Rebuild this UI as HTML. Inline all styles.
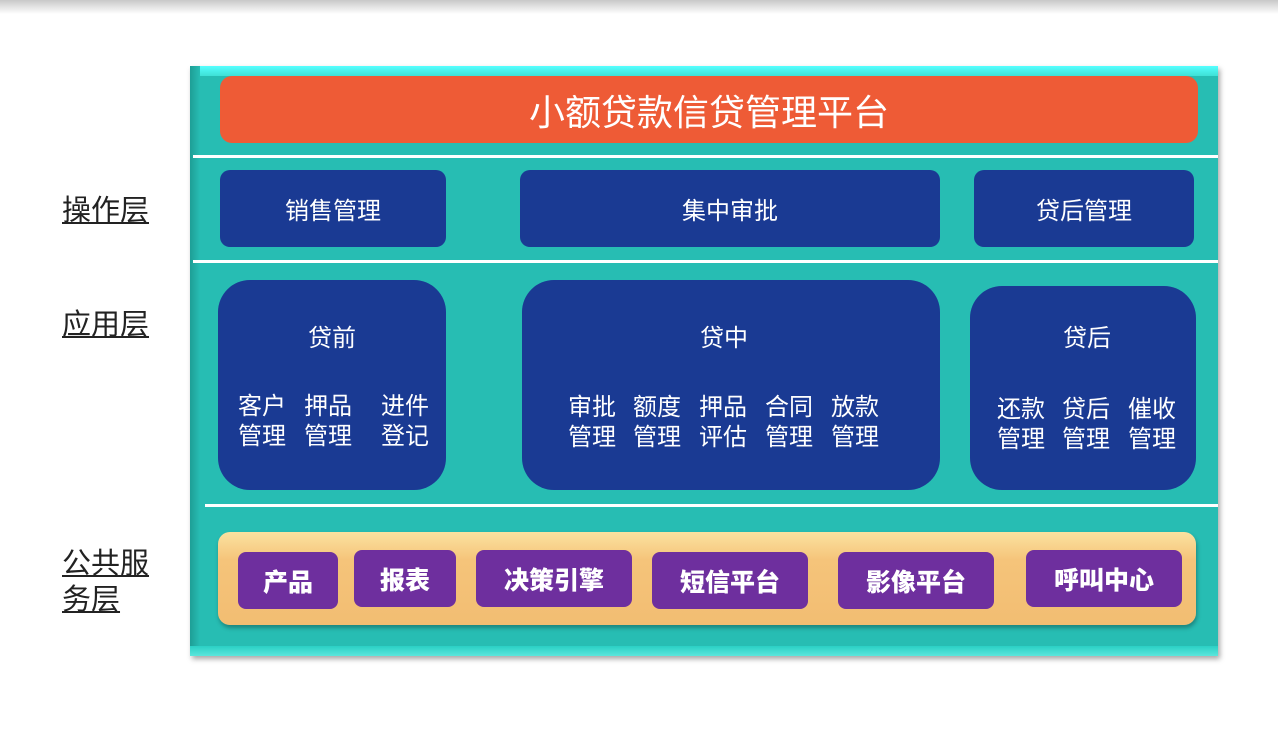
<!DOCTYPE html>
<html><head><meta charset="utf-8"><style>
body{margin:0;width:1278px;height:756px;background:#fff;position:relative;overflow:hidden;font-family:"Liberation Sans","Noto Sans CJK SC",sans-serif}
.a{position:absolute}
.topbar{left:0;top:0;width:1278px;height:14px;background:linear-gradient(#c8c8c8,#fff)}
.main{left:190px;top:66px;width:1028px;height:590px;background:#27bdb3;box-shadow:2px 3px 5px rgba(0,0,0,.35)}
.bevt{left:190px;top:66px;width:1028px;height:10px;background:linear-gradient(#5ff,#3ee0d6)}
.bevl{left:190px;top:66px;width:10px;height:590px;background:linear-gradient(90deg,#1e9e96,#27bdb3)}
.bevb{left:190px;top:646px;width:1028px;height:10px;background:linear-gradient(#2ad0c5,#5be6dc)}
.line{height:3px;background:#fff}
.blue{background:#1a3a93;color:#fff;display:flex;align-items:center;justify-content:center;font-size:24px}
.lbl{font-size:29px;color:#222;text-decoration:underline;line-height:36px}
.pur{background:#6e2f9e;color:#fff;border-radius:8px;display:flex;align-items:center;justify-content:center;font-size:25px;font-weight:900}
.t{color:#fff;font-size:24px;line-height:30px;text-align:center}
</style></head><body>
<div class="a topbar"></div>
<div class="a main"></div><div class="a bevt"></div><div class="a bevl"></div><div class="a bevb"></div>
<div class="a" style="left:220px;top:76px;width:978px;height:67px;background:#ee5b36;border-radius:12px;color:#fff;font-size:36px;display:flex;align-items:center;justify-content:center">小额贷款信贷管理平台</div>
<div class="a line" style="left:193px;top:155px;width:1025px"></div>
<div class="a line" style="left:193px;top:260px;width:1025px"></div>
<div class="a line" style="left:205px;top:504px;width:1013px"></div>
<div class="a blue" style="left:220px;top:170px;width:226px;height:77px;border-radius:10px">销售管理</div>
<div class="a blue" style="left:520px;top:170px;width:420px;height:77px;border-radius:10px">集中审批</div>
<div class="a blue" style="left:974px;top:170px;width:220px;height:77px;border-radius:10px">贷后管理</div>
<div class="a blue" style="left:218px;top:280px;width:228px;height:210px;border-radius:32px;display:block"></div>
<div class="a blue" style="left:522px;top:280px;width:418px;height:210px;border-radius:32px;display:block"></div>
<div class="a blue" style="left:970px;top:286px;width:226px;height:204px;border-radius:32px;display:block"></div>
<div class="a t" style="left:218px;top:324px;width:228px">贷前</div>
<div class="a t" style="left:522px;top:324px;width:404px">贷中</div>
<div class="a t" style="left:970px;top:324px;width:234px">贷后</div>
<div class="a t" style="left:238px;top:392px">客户<br>管理</div>
<div class="a t" style="left:304px;top:392px">押品<br>管理</div>
<div class="a t" style="left:381px;top:392px">进件<br>登记</div>
<div class="a t" style="left:568px;top:393px">审批<br>管理</div>
<div class="a t" style="left:633px;top:393px">额度<br>管理</div>
<div class="a t" style="left:699px;top:393px">押品<br>评估</div>
<div class="a t" style="left:765px;top:393px">合同<br>管理</div>
<div class="a t" style="left:831px;top:393px">放款<br>管理</div>
<div class="a t" style="left:997px;top:395px">还款<br>管理</div>
<div class="a t" style="left:1062px;top:395px">贷后<br>管理</div>
<div class="a t" style="left:1128px;top:395px">催收<br>管理</div>
<div class="a" style="left:218px;top:532px;width:978px;height:93px;background:linear-gradient(#fbe2a0,#f5c47a 30%,#f2bd72);border-radius:12px;box-shadow:1px 3px 4px rgba(0,0,0,.3)"></div>
<div class="a pur" style="left:238px;top:552px;width:100px;height:57px">产品</div>
<div class="a pur" style="left:354px;top:550px;width:102px;height:57px">报表</div>
<div class="a pur" style="left:476px;top:550px;width:156px;height:57px">决策引擎</div>
<div class="a pur" style="left:652px;top:552px;width:156px;height:57px">短信平台</div>
<div class="a pur" style="left:838px;top:552px;width:156px;height:57px">影像平台</div>
<div class="a pur" style="left:1026px;top:550px;width:156px;height:57px">呼叫中心</div>
<div class="a lbl" style="left:62px;top:193px">操作层</div>
<div class="a lbl" style="left:62px;top:307px">应用层</div>
<div class="a lbl" style="left:62px;top:546px">公共服<br>务层</div>
</body></html>
